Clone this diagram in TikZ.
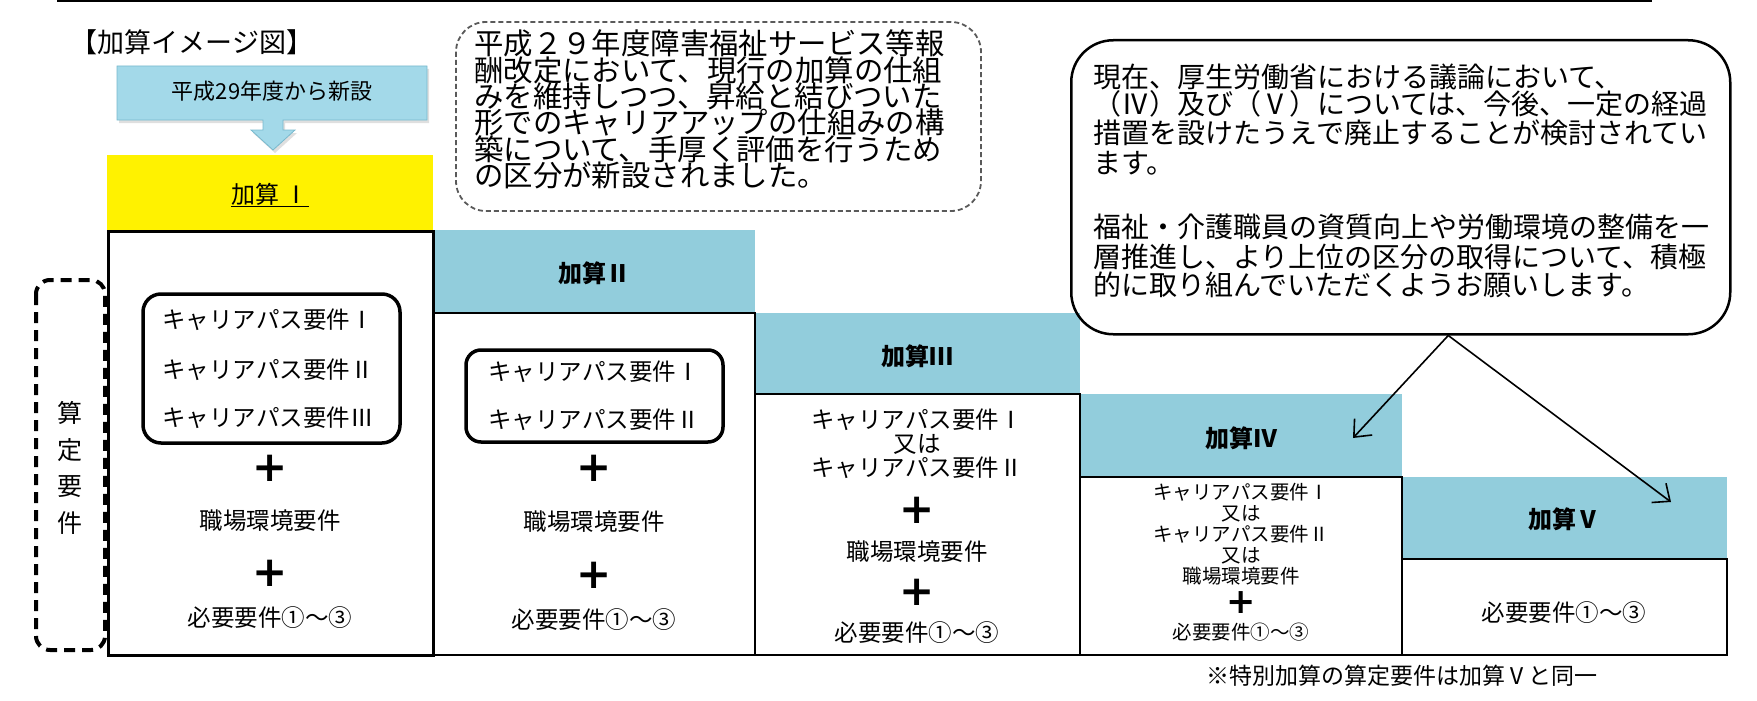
\documentclass[tikz,border=0pt]{standalone}
\usepackage{fontspec}
\setmainfont{Noto Sans CJK JP}
\newfontfamily\plusfont{DejaVu Sans}
\usetikzlibrary{arrows.meta,shadows}
\newcommand\myfs[2]{\fontsize{#1}{#2}\selectfont}
\newcommand\tightlines{\lineskiplimit=-60pt\relax\lineskip=0pt\relax}
\definecolor{hdrblue}{RGB}{146,205,220}
\definecolor{callblue}{RGB}{163,217,233}
\definecolor{calledge}{RGB}{120,185,205}
\definecolor{dashgray}{RGB}{90,90,90}
\tikzset{
  body/.style={draw=black, line width=2.5pt},
  hdrtxt/.style={font=\bfseries\myfs{24}{28}, inner sep=0},
  txt/.style={font=\myfs{23.5}{25}, align=center, inner sep=0},
  txts/.style={font=\myfs{19.5}{21}, align=center, inner sep=0},
  plusbig/.style={font=\plusfont\bfseries\myfs{42}{42}, inner sep=0},
  plussmall/.style={font=\plusfont\bfseries\myfs{35}{35}, inner sep=0},
  grp/.style={draw=black, line width=3.5pt, rounded corners=18pt},
  lineL/.style={anchor=west, inner sep=0},
  arr/.style={-{Straight Barb[length=14pt,width=24pt,line width=1.6pt]}, line width=1.6pt},
}
\begin{document}
\begin{tikzpicture}[x=1pt,y=-1pt]
\useasboundingbox (0,0) rectangle (1757,701);
% top rule
\draw[line width=2pt] (57,1) -- (1652,1);
% title
\node[inner sep=0, font=\myfs{27}{30}] (title) at (192,42) {【加算イメージ図】};
% callout arrow
\path[fill=callblue, draw=calledge, line width=0.8pt, drop shadow={opacity=0.25, shadow xshift=2pt, shadow yshift=-3pt}]
  (117,66) -- (427,66) -- (427,120) -- (283,120) -- (283,130) -- (295,130) -- (273,150)
  -- (251,130) -- (263,130) -- (263,120) -- (117,120) -- cycle;
\node[inner sep=0, font=\myfs{22}{24}] (newlbl) at (272,91) {平成29年度から新設};
% headers
\fill[yellow] (107,155) rectangle (433,231);
\fill[hdrblue] (433,230) rectangle (755,313);
\fill[hdrblue] (755,313) rectangle (1080,394);
\fill[hdrblue] (1080,394) rectangle (1402,477);
\fill[hdrblue] (1402,477) rectangle (1727,559);
\node[inner sep=0, font=\myfs{24}{28}] (h1) at (270,195) {\underline{加算 Ⅰ}};
\node[hdrtxt] (h2) at (594,273) {加算Ⅱ};
\node[hdrtxt] (h3) at (917,356) {加算Ⅲ};
\node[hdrtxt] (h4) at (1241,438) {加算Ⅳ};
\node[hdrtxt] (h5) at (1564,519) {加算Ⅴ};
% bodies
\draw[body, line width=3pt] (108,231) rectangle (433,655);
\draw[body] (433,313) rectangle (755,655);
\draw[body] (755,394) rectangle (1080,655);
\draw[body] (1080,477) rectangle (1402,655);
\draw[body] (1402,559) rectangle (1727,655);
% side label
\draw[line width=4pt, dash pattern=on 11pt off 7pt, rounded corners=14pt] (36,280) rectangle (105,650);
\node[align=center, inner sep=0, font=\myfs{25}{36.5}] (santei) at (70,468) {算\\定\\要\\件};
% column I
\draw[grp] (143,294) rectangle (400,443);
\node[txt] (c1a) at (268,320) {キャリアパス要件Ⅰ};
\node[txt] (c1b) at (268,370) {キャリアパス要件Ⅱ};
\node[txt] (c1c) at (268,418) {キャリアパス要件Ⅲ};
\node[plusbig] (p1a) at (270,468) {+};
\node[txt] (c1d) at (270,521) {職場環境要件};
\node[plusbig] (p1b) at (270,573) {+};
\node[txt] (c1e) at (270,618) {必要要件①〜③};
% column II
\draw[grp, rounded corners=15pt] (466,350) rectangle (723,442);
\node[txt] (c2a) at (594,372) {キャリアパス要件Ⅰ};
\node[txt] (c2b) at (594,420) {キャリアパス要件Ⅱ};
\node[plusbig] (p2a) at (594,468) {+};
\node[txt] (c2d) at (594,522) {職場環境要件};
\node[plusbig] (p2b) at (594,575) {+};
\node[txt] (c2e) at (594,620) {必要要件①〜③};
% column III
\node[txt, font=\myfs{23.5}{24}] (c3a) at (917,444) {キャリアパス要件Ⅰ\\又は\\キャリアパス要件Ⅱ};
\node[plusbig] (p3a) at (917,510) {+};
\node[txt] (c3d) at (917,552) {職場環境要件};
\node[plusbig] (p3b) at (917,592) {+};
\node[txt] (c3e) at (917,633) {必要要件①〜③};
% column IV
\node[txts] (c4a) at (1241,534) {キャリアパス要件Ⅰ\\又は\\キャリアパス要件Ⅱ\\又は\\職場環境要件};
\node[plussmall] (p4a) at (1241,603) {+};
\node[txts] (c4e) at (1241,632) {必要要件①〜③};
% column V
\node[txt] (c5e) at (1564,613) {必要要件①〜③};
% footnote
\node[inner sep=0, font=\myfs{23}{26}] (note) at (1402,676) {※特別加算の算定要件は加算Ⅴと同一};
% middle dashed box
\draw[draw=dashgray, line width=1.8pt, dash pattern=on 5pt off 3pt, rounded corners=30pt] (456,22) rectangle (981,211);
\node[anchor=north west, inner sep=0, align=left, font=\myfs{29.4}{26.4}\tightlines] (midtxt) at (474,27.5)
  {\rule{0pt}{27pt}平成２９年度障害福祉サービス等報\\
   酬改定において、現行の加算の仕組\\
   みを維持しつつ、昇給と結びついた\\
   形でのキャリアアップの仕組みの構\\
   築について、手厚く評価を行うため\\
   の区分が新設されました。};
% right bubble
\node[draw=black, line width=2.5pt, rounded corners=42pt, minimum width=659pt, minimum height=294pt, anchor=north west, inner sep=0] (bubble) at (1070,39) {};
\begin{scope}[every node/.style={lineL, font=\myfs{28}{30}}]
\node (b1) at (1093,77) {現在、厚生労働省における議論において、};
\node (b2) at (1093,104) {（Ⅳ）及び（Ⅴ）については、今後、一定の経過};
\node (b3) at (1093,133) {措置を設けたうえで廃止することが検討されてい};
\node (b4) at (1093,163) {ます。};
\node (b5) at (1093,227) {福祉・介護職員の資質向上や労働環境の整備を一};
\node (b6) at (1093,257) {層推進し、より上位の区分の取得について、積極};
\node (b7) at (1093,285) {的に取り組んでいただくようお願いします。};
\end{scope}
% arrows
\coordinate (apex) at ([xshift=47.5pt]bubble.south);
\coordinate (tipL) at (1353,438);
\coordinate (tipR) at (1671,502);
\draw[arr] (apex) -- (tipL);
\draw[arr] (apex) -- (tipR);
\end{tikzpicture}
\end{document}
